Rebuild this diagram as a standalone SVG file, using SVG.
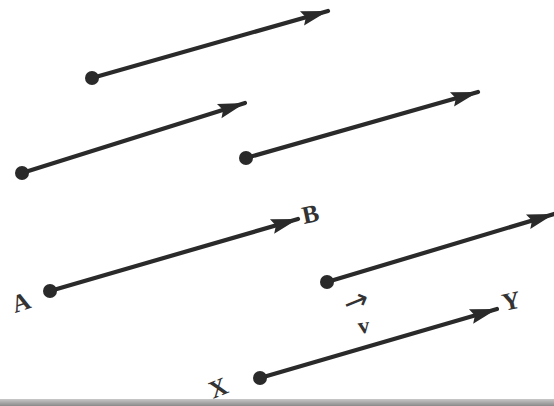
<svg xmlns="http://www.w3.org/2000/svg" width="554" height="406" viewBox="0 0 554 406">
<style>
.v{stroke:#2a2a2a;stroke-width:4.2;fill:none;stroke-linecap:round;marker-end:url(#ah)}
.d{fill:#2a2a2a}
.t{font-family:"Liberation Serif",serif;font-size:25px;font-weight:bold;fill:#333}
</style>
<defs>
<marker id="ah" markerUnits="userSpaceOnUse" viewBox="-28 -8 30 16" refX="0" refY="0" markerWidth="30" markerHeight="16" orient="auto">
<path d="M0,0 L-27,-7.5 L-23,0 L-27,7.5 Z" fill="#2a2a2a"/>
</marker>
<linearGradient id="edge" x1="0" y1="0" x2="0" y2="1">
<stop offset="0" stop-color="#c8c8c8"/>
<stop offset="1" stop-color="#8a8a8a"/>
</linearGradient>
</defs>
<rect width="554" height="406" fill="#ffffff"/>
<rect x="0" y="399" width="554" height="7" fill="url(#edge)"/>
<g id="connectors">
<line class="v" x1="92" y1="78" x2="328" y2="11"/>
<line class="v" x1="22" y1="173" x2="245" y2="103"/>
<line class="v" x1="246" y1="158" x2="478" y2="92"/>
<line class="v" x1="50" y1="291" x2="298" y2="219"/>
<line class="v" x1="327" y1="282" x2="554" y2="214"/>
<line class="v" x1="260" y1="378" x2="497" y2="309"/>
</g>
<g id="v1"><circle class="d" cx="92" cy="78" r="7"/></g>
<g id="v2"><circle class="d" cx="22" cy="173" r="7"/></g>
<g id="v3"><circle class="d" cx="246" cy="158" r="7"/></g>
<g id="AB"><circle class="d" cx="50" cy="291" r="7"/>
<text class="t" transform="translate(15,313) rotate(-18)">A</text>
<text class="t" transform="translate(304,224) rotate(-12)">B</text></g>
<g id="v5"><circle class="d" cx="327" cy="282" r="7"/></g>
<g id="XY"><circle class="d" cx="260" cy="378" r="7"/>
<text class="t" transform="translate(213,399) rotate(-22)">X</text>
<text class="t" transform="translate(504,311) rotate(-12)">Y</text></g>
<g id="label-v">
<text class="t" style="font-size:23px" transform="translate(359,334) rotate(-8)">v</text>
<text style="font-family:'DejaVu Sans',sans-serif;font-size:30px;fill:#333" transform="translate(348,315) rotate(-22)">→</text>
</g>
</svg>
